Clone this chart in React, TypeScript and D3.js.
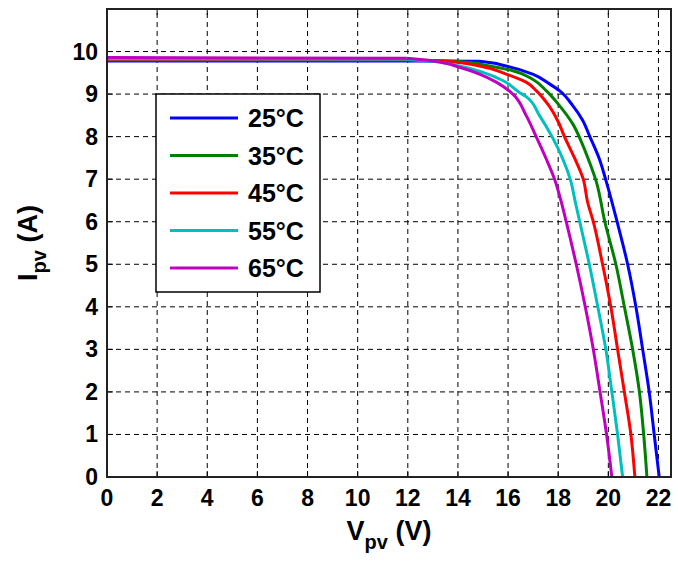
import * as d3 from "d3";
import React from "react";

type Pt = [number, number]; // [V, I]

const labels = ["25°C", "35°C", "45°C", "55°C", "65°C"];
const colors = ["#0000ff", "#008000", "#ff0000", "#00bfbf", "#bf00bf"];

// I-V curves
const curve25: Pt[] = [
  [0, 9.78], [12, 9.78], [14.86, 9.77], [15.92, 9.66], [16.98, 9.47], [17.65, 9.24],
  [18.05, 9.08], [18.58, 8.73], [18.98, 8.38], [19.24, 8.03], [19.64, 7.48], [19.91, 6.96],
  [20.35, 6.0], [20.77, 5.0], [21.1, 4.0], [21.37, 3.0], [21.63, 2.0], [21.83, 1.0], [22.03, 0],
];
const curve35: Pt[] = [
  [0, 9.8], [12, 9.8], [13.93, 9.77], [15.26, 9.66], [16.19, 9.55], [16.98, 9.35],
  [17.52, 9.08], [18.05, 8.73], [18.58, 8.3], [18.98, 7.8], [19.24, 7.41], [19.51, 6.96],
  [19.86, 6.0], [20.3, 5.0], [20.64, 4.0], [20.97, 3.0], [21.24, 2.0], [21.41, 1.0], [21.54, 0],
];
const curve45: Pt[] = [
  [0, 9.82], [12, 9.81], [13.53, 9.77], [14.86, 9.66], [15.92, 9.47], [16.72, 9.28],
  [17.12, 9.08], [17.6, 8.75], [18.0, 8.35], [18.25, 8.0], [18.65, 7.5], [19.0, 7.0],
  [19.17, 6.47], [19.4, 6.0], [19.77, 5.0], [20.1, 4.0], [20.37, 3.0], [20.64, 2.0], [20.9, 1.0], [21.06, 0],
];
const curve55: Pt[] = [
  [0, 9.83], [12, 9.82], [13.0, 9.77], [14.06, 9.66], [15.0, 9.51], [15.79, 9.32],
  [16.45, 9.04], [16.72, 8.94], [17.25, 8.5], [17.78, 7.97], [18.18, 7.48], [18.5, 6.96],
  [18.68, 6.47], [18.86, 6.0], [19.24, 5.0], [19.58, 4.0], [19.9, 3.0], [20.14, 2.0], [20.37, 1.0], [20.57, 0],
];
const curve65: Pt[] = [
  [0, 9.86], [11.94, 9.84], [13.0, 9.78], [14.06, 9.63], [14.86, 9.47], [15.53, 9.28],
  [16.19, 9.0], [16.72, 8.5], [17.12, 8.0], [17.52, 7.48], [17.88, 6.96], [18.12, 6.47],
  [18.32, 6.0], [18.72, 5.0], [19.08, 4.0], [19.4, 3.0], [19.67, 2.0], [19.93, 1.0], [20.14, 0],
];
const curves = [curve25, curve35, curve45, curve55, curve65];

const xTicks = [0, 2, 4, 6, 8, 10, 12, 14, 16, 18, 20, 22];
const yTicks = [0, 1, 2, 3, 4, 5, 6, 7, 8, 9, 10];

const W = 678;
const H = 561;
const margin = { top: 9, right: 7, bottom: 84, left: 107 };
const font = "Arial, 'Liberation Sans', Helvetica, sans-serif";

export default function App() {
  const x = d3.scaleLinear().domain([0, 22.5]).range([margin.left, W - margin.right]);
  const y = d3.scaleLinear().domain([0, 11]).range([H - margin.bottom, margin.top]);
  const line = d3.line<Pt>().x(d => x(d[0])).y(d => y(d[1])).curve(d3.curveMonotoneY);
  const flatLine = d3.line<Pt>().x(d => x(d[0])).y(d => y(d[1]));

  const x0 = x.range()[0], x1 = x.range()[1];
  const y0 = y.range()[0], y1 = y.range()[1];
  const tk = 6;

  // legend box
  const lg = { x: 156, y: 94, w: 164, h: 198 };
  const rowH = 37.5;

  return (
    <svg width={W} height={H} style={{ position: "absolute", left: 0, top: 0, background: "#fff" }}
      fontFamily={font} fontWeight="bold">
      {/* grid */}
      <g stroke="#000" strokeWidth={1} strokeDasharray="5,4">
        {xTicks.filter(t => t > 0).map(t => (
          <line key={"gx" + t} x1={x(t)} x2={x(t)} y1={y0} y2={y1} />
        ))}
        {yTicks.filter(t => t > 0).map(t => (
          <line key={"gy" + t} x1={x0} x2={x1} y1={y(t)} y2={y(t)} />
        ))}
      </g>
      {/* inward ticks */}
      <g stroke="#000" strokeWidth={1}>
        {xTicks.map(t => (
          <g key={"tx" + t}>
            <line x1={x(t)} x2={x(t)} y1={y0} y2={y0 - tk} />
            <line x1={x(t)} x2={x(t)} y1={y1} y2={y1 + tk} />
          </g>
        ))}
        {yTicks.map(t => (
          <g key={"ty" + t}>
            <line x1={x0} x2={x0 + tk} y1={y(t)} y2={y(t)} />
            <line x1={x1} x2={x1 - tk} y1={y(t)} y2={y(t)} />
          </g>
        ))}
      </g>
      {/* curves: flat part straight, knee and drop smoothed */}
      <g fill="none" strokeWidth={3} strokeLinejoin="round">
        {curves.map((c, i) => (
          <g key={labels[i]} stroke={colors[i]}>
            <path d={flatLine(c.slice(0, 2)) ?? ""} />
            <path d={line(c.slice(1)) ?? ""} />
          </g>
        ))}
      </g>
      {/* frame */}
      <rect x={x0} y={y1} width={x1 - x0} height={y0 - y1} fill="none" stroke="#222" strokeWidth={2} />
      {/* tick labels */}
      <g fontSize={23} fill="#000">
        {xTicks.map(t => (
          <text key={"lx" + t} x={x(t)} y={y0 + 29} textAnchor="middle">{t}</text>
        ))}
        {yTicks.map(t => (
          <text key={"ly" + t} x={x0 - 9} y={y(t) + 8} textAnchor="end">{t}</text>
        ))}
      </g>
      {/* axis labels */}
      <text x={(x0 + x1) / 2} y={540} textAnchor="middle" fontSize={27}>
        V<tspan fontSize={20} dy={9}>pv</tspan><tspan dy={-9}> (V)</tspan>
      </text>
      <text transform={`translate(37,${(y0 + y1) / 2}) rotate(-90)`} textAnchor="middle" fontSize={27}>
        I<tspan fontSize={20} dy={9}>pv</tspan><tspan dy={-9}> (A)</tspan>
      </text>
      {/* legend */}
      <rect x={lg.x} y={lg.y} width={lg.w} height={lg.h} fill="#fff" stroke="#000" strokeWidth={1.5} />
      {labels.map((l, i) => {
        const cy = lg.y + 24 + i * rowH;
        return (
          <g key={"lg" + l}>
            <line x1={lg.x + 14} x2={lg.x + 82} y1={cy} y2={cy} stroke={colors[i]} strokeWidth={3} />
            <text x={lg.x + 92} y={cy + 9} fontSize={25}>{l}</text>
          </g>
        );
      })}
    </svg>
  );
}
